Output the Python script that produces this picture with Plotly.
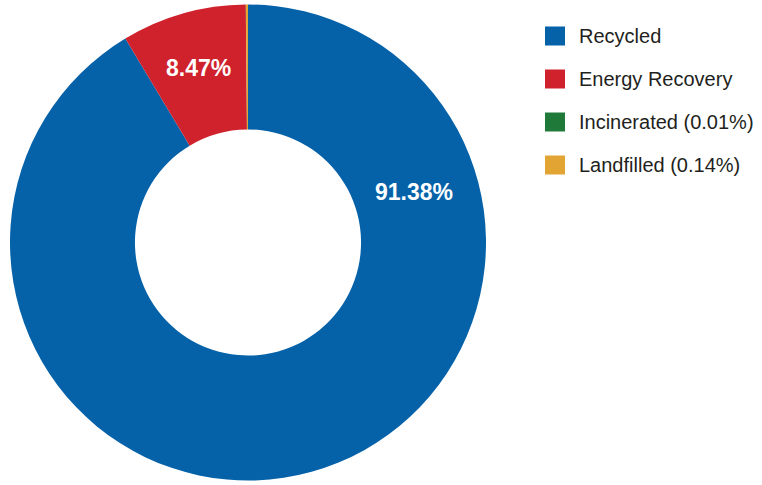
import math
import plotly.graph_objects as go

# Share of material by end-of-life route (percent)
labels = ["Recycled", "Energy Recovery", "Incinerated", "Landfilled"]
values = [91.38, 8.47, 0.01, 0.14]
legend_text = ["Recycled", "Energy Recovery", "Incinerated (0.01%)", "Landfilled (0.14%)"]
colors = ["#0561a8", "#cf222c", "#1f7a3a", "#e2a534"]

W, H = 762, 485
HOLE = 0.475

fig = go.Figure(
    go.Pie(
        labels=labels,
        values=values,
        sort=False,
        direction="clockwise",
        rotation=0,
        hole=HOLE,
        marker=dict(colors=colors, line=dict(width=0)),
        textinfo="none",
        hoverinfo="label+percent",
        showlegend=False,
        domain=dict(x=[10 / W, 486 / W], y=[4 / H, 481 / H]),
    )
)

# Pie geometry in pixels (domain is square, so radius = half its width)
cx, cy = (10 + 486) / 2, H - (4 + 481) / 2
R = (486 - 10) / 2
total = sum(values)

# Value labels: big slice labelled off to the right, small slice at its mid-angle
starts = [sum(values[:i]) / total * 360 for i in range(len(values))]
mids = [s + v / total * 180 for s, v in zip(starts, values)]
label_spots = {0: (73.0, 0.73), 1: (mids[1], 0.76)}
for i, (ang, rf) in label_spots.items():
    a = math.radians(ang)
    px = cx + R * rf * math.sin(a)
    py = cy + R * rf * math.cos(a)
    fig.add_annotation(
        x=px / W, y=py / H, xref="paper", yref="paper",
        text=f"<b>{values[i]:.2f}%</b>", showarrow=False,
        font=dict(family="Liberation Sans, Arial, sans-serif", size=23, color="white"),
        xanchor="center", yanchor="middle",
    )

# Legend drawn as swatches plus text
lx0, sw, first_y, step = 545, 20, 36, 43
for i, (txt, col) in enumerate(zip(legend_text, colors)):
    yc = first_y + i * step
    fig.add_shape(
        type="rect", xref="paper", yref="paper",
        x0=lx0 / W, x1=(lx0 + sw) / W,
        y0=(H - yc - 9.5) / H, y1=(H - yc + 9.5) / H,
        fillcolor=col, line=dict(width=0),
    )
    fig.add_annotation(
        x=577 / W, y=(H - yc) / H, xref="paper", yref="paper",
        text=txt, showarrow=False, xanchor="left", yanchor="middle",
        font=dict(family="Liberation Sans, Arial, sans-serif", size=20, color="#231f20"),
    )

fig.update_layout(
    width=W, height=H,
    margin=dict(l=0, r=0, t=0, b=0),
    paper_bgcolor="white", plot_bgcolor="white",
)
fig.write_html("out.html")
